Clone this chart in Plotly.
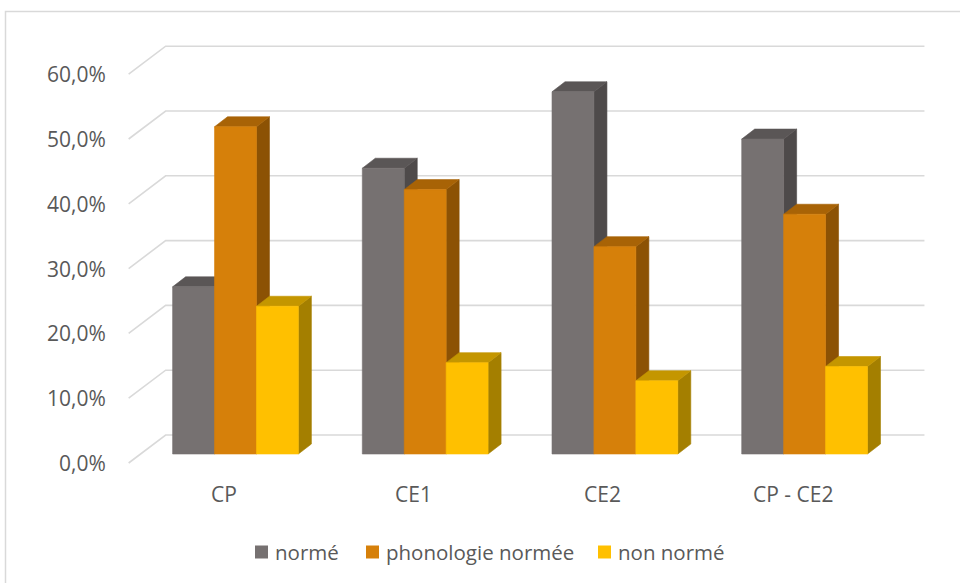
import plotly.graph_objects as go

# data (percent)
categories = ["CP", "CE1", "CE2", "CP - CE2"]
series_names = ["normé", "phonologie normée", "non normé"]
norme = [25.8, 44.1, 55.9, 48.6]
phonologie_norme = [50.5, 40.8, 32.0, 37.0]
non_norme = [22.8, 14.1, 11.3, 13.5]
y_ticks = [0, 10, 20, 30, 40, 50, 60]

series_values = [norme, phonologie_norme, non_norme]

# face colours: front, top, side
face_colors = [
    ("#767171", "#5a5656", "#4e4a4a"),
    ("#d6800a", "#a86306", "#8c5204"),
    ("#ffc000", "#c49600", "#a47f00"),
]
text_color = "#595959"
grid_color = "#d9d9d9"
font_family = "Open Sans, Noto Sans, sans-serif"

# projection of the 3D box (axis units): x = category index, y = percent
W, H = 960, 583
px_x = 189.7          # pixels per category step
px_y = 6.48           # pixels per percent
x_zero_px, y_zero_px = 235.5, 454
BW = 0.221            # bar width
DX, DY = 13 / px_x, 10 / px_y        # bar depth
BX, BY = 25 / px_x, 19 / px_y        # back wall offset
FX, FY = -12 / px_x, -9 / px_y       # front of side wall
wall_l, wall_r = -0.5, 3.5

fig = go.Figure()

# gridlines: back wall + side wall diagonals
gx, gy = [], []
for t in y_ticks:
    gx += [wall_l + FX, wall_l + BX, wall_r + BX, None]
    gy += [t + FY, t + BY, t + BY, None]
fig.add_trace(go.Scatter(x=gx, y=gy, mode="lines",
                         line=dict(color=grid_color, width=1.6),
                         hoverinfo="skip", showlegend=False))


def poly(xs, ys, color, name, hover):
    fig.add_trace(go.Scatter(
        x=xs + [xs[0]], y=ys + [ys[0]], mode="lines", fill="toself",
        fillcolor=color, line=dict(color=color, width=0.6),
        name=name, hoverinfo="text", text=hover, showlegend=False))


for i, cat in enumerate(categories):
    for j, name in enumerate(series_names):
        v = series_values[j][i]
        front, top, side = face_colors[j]
        xl = i - 1.5 * BW + j * BW
        xr = xl + BW
        hover = f"{cat} - {name}: {v:.1f}%".replace(".", ",")
        # side face
        poly([xr, xr, xr + DX, xr + DX], [0, v, v + DY, DY], side, name, hover)
        # top face
        poly([xl, xr, xr + DX, xl + DX], [v, v, v + DY, v + DY], top, name, hover)
        # front face
        poly([xl, xr, xr, xl], [0, 0, v, v], front, name, hover)

annotations = []
# y tick labels
for t in y_ticks:
    annotations.append(dict(
        x=wall_l + FX, y=t + FY, xref="x", yref="y", text=f"{t:.1f}%".replace(".", ","),
        showarrow=False, xanchor="right", yanchor="middle", xshift=-21,
        font=dict(family=font_family, size=21, color=text_color)))
# category labels
for i, cat in enumerate(categories):
    annotations.append(dict(
        x=i + FX, y=FY, xref="x", yref="y", text=cat, showarrow=False,
        xanchor="center", yanchor="middle", yshift=-31,
        font=dict(family=font_family, size=21, color=text_color)))

# legend (custom, bottom centre)
shapes = []
legend_x = [255, 366, 598]
legend_y = 552
for j, name in enumerate(series_names):
    x0 = legend_x[j]
    shapes.append(dict(type="rect", xref="paper", yref="paper",
                       x0=x0 / W, x1=(x0 + 13) / W,
                       y0=1 - (legend_y + 6.5) / H, y1=1 - (legend_y - 6.5) / H,
                       fillcolor=face_colors[j][0], line=dict(width=0)))
    annotations.append(dict(
        x=(x0 + 18) / W, y=1 - legend_y / H, xref="paper", yref="paper",
        text=name, showarrow=False, xanchor="left", yanchor="middle",
        font=dict(family=font_family, size=20.5, color=text_color)))

# chart area border
shapes.append(dict(type="rect", xref="paper", yref="paper",
                   x0=5.5 / W, x1=1.05, y0=-0.05, y1=1 - 11.5 / H,
                   line=dict(color=grid_color, width=1.5), fillcolor="rgba(0,0,0,0)"))

fig.update_layout(
    width=W, height=H,
    margin=dict(l=0, r=0, t=0, b=0, autoexpand=False),
    paper_bgcolor="white", plot_bgcolor="white",
    showlegend=False,
    xaxis=dict(range=[-x_zero_px / px_x, (W - x_zero_px) / px_x],
               visible=False, fixedrange=True),
    yaxis=dict(range=[(y_zero_px - H) / px_y, y_zero_px / px_y],
               visible=False, fixedrange=True),
    annotations=annotations,
    shapes=shapes,
    hovermode="closest",
)

fig.write_html("out.html", config={"displayModeBar": False},
               post_script="document.body.style.margin='0';")
